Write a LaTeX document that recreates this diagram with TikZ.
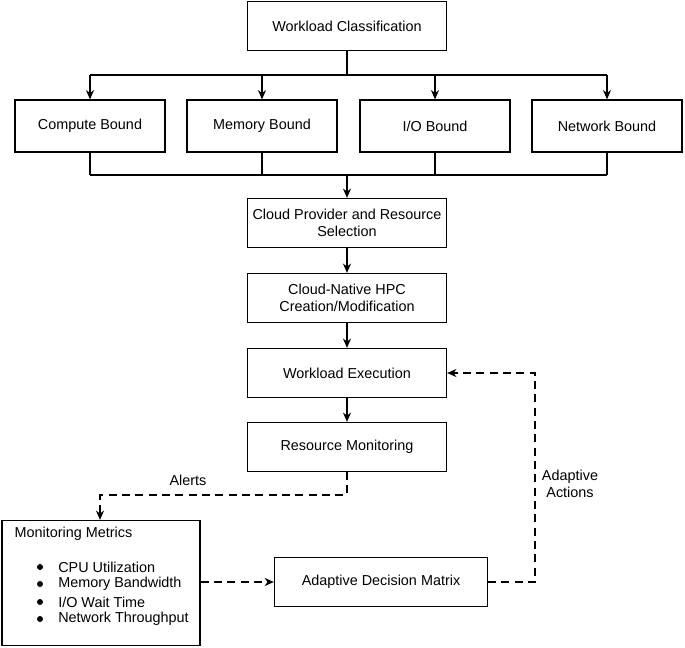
\documentclass[tikz,border=0pt]{standalone}
\usepackage{fontspec}
\setmainfont{Liberation Sans}
\usetikzlibrary{arrows.meta}
\begin{document}
\begin{tikzpicture}[x=0.75pt,y=-0.75pt,
  box/.style={draw,line width=0.9pt,minimum width=199*0.75pt,minimum height=49*0.75pt,align=center,font=\fontsize{10.8}{13}\selectfont,inner sep=1pt},
  sbox/.style={box,minimum width=150*0.75pt,minimum height=52*0.75pt},
  arr/.style={-{Stealth[length=7pt,width=6pt]},line width=0.9pt},
  ln/.style={line width=0.9pt},
  dsh/.style={line width=0.9pt,dash pattern=on 6pt off 4pt},
  lbl/.style={font=\fontsize{10.8}{13}\selectfont,align=center},
  item/.style={lbl,anchor=west,inner sep=0pt},
  bul/.style={circle,fill,inner sep=0pt,minimum size=4.5pt}]
\useasboundingbox (0,0) rectangle (685,648);
\node[box] (wc) at (347,26) {Workload Classification};
\node[sbox] (cb) at (90,126) {Compute Bound};
\node[sbox] (mb) at (262,126) {Memory Bound};
\node[sbox] (io) at (435,126) {I/O Bound};
\node[sbox] (nb) at (607,126) {Network Bound};
\node[box] (cp) at (347,223) {Cloud Provider and Resource\\Selection};
\node[box] (hpc) at (347,298) {Cloud-Native HPC\\Creation/Modification};
\node[box] (we) at (347,373) {Workload Execution};
\node[box] (rm) at (347,447) {Resource Monitoring};
\node[box,minimum width=198*0.75pt,minimum height=125*0.75pt] (mm) at (101,583) {};
\node[lbl,anchor=north west] (mmt) at (10,522) {Monitoring Metrics};
\node[bul] (b1a) at (40,567) {}; \node[item] (i1) at (58,567) {CPU Utilization};
\node[bul] (b2a) at (40,584) {}; \node[item] (i2) at (58,584) {Memory Bandwidth};
\node[bul] (b3a) at (40,602) {}; \node[item] (i3) at (58,602) {I/O Wait Time};
\node[bul] (b4a) at (40,619) {}; \node[item] (i4) at (58,619) {Network Throughput};
\node[box,minimum width=213*0.75pt] (adm) at (381,582) {Adaptive Decision Matrix};
\coordinate (t) at (347,75);
\draw[ln] (wc.south) -- (t);
\draw[ln] (90,75) -- (607,75);
\foreach \n in {cb,mb,io,nb} \draw[arr] (\n.north |- t) -- (\n.north);
\coordinate (m) at (347,175);
\foreach \n in {cb,mb,io,nb} \draw[ln] (\n.south) -- (\n.south |- m);
\draw[ln] (90,175) -- (607,175);
\draw[arr] (m) -- (cp.north);
\draw[arr] (cp) -- (hpc);
\draw[arr] (hpc) -- (we);
\draw[arr] (we) -- (rm);
\coordinate (a1) at (347,495);
\coordinate (a2) at (100,495);
\draw[dsh,-{Stealth[length=7pt,width=6pt]}] (rm.south) -- (a1) -- (a2) -- (a2 |- mm.north);
\node[lbl] (al) at (188,480) {Alerts};
\draw[dsh,-{Stealth[length=7pt,width=6pt]}] (mm.east |- adm) -- (adm.west);
\coordinate (b1) at (535,582);
\draw[dsh,-{Stealth[length=7pt,width=6pt]}] (adm.east) -- (b1) -- (b1 |- we) -- (we.east);
\node[lbl] (aa) at (570,484) {Adaptive\\Actions};
\end{tikzpicture}
\end{document}
